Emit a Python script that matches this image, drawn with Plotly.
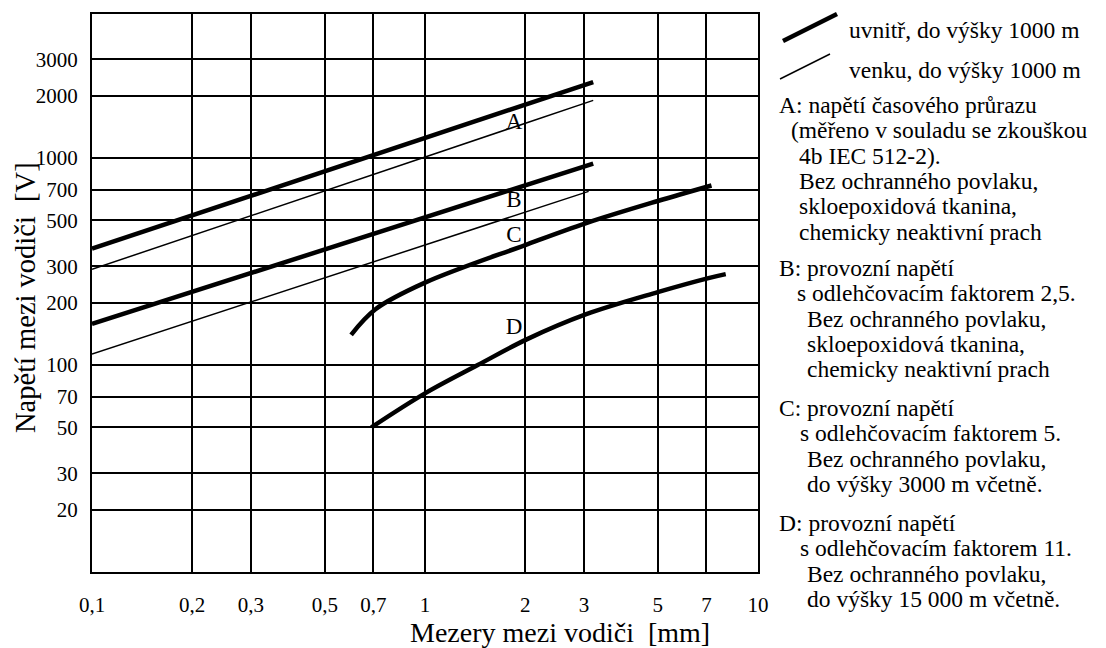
import plotly.graph_objects as go

# ---------------- data ----------------
x_ticks = [0.1, 0.2, 0.3, 0.5, 0.7, 1, 2, 3, 5, 7, 10]
x_ticktext = ["0,1", "0,2", "0,3", "0,5", "0,7", "1", "2", "3", "5", "7", "10"]
y_ticks = [20, 30, 50, 70, 100, 200, 300, 500, 700, 1000, 2000, 3000]
y_ticktext = ["20", "30", "50", "70", "100", "200", "300", "500", "700", "1000", "2000", "3000"]

# A: thick = inside, thin = outside
a_in_x = [0.1, 3.2]
a_in_y = [365, 2330]
a_out_x = [0.1, 3.2]
a_out_y = [290, 1900]
# B
b_in_x = [0.1, 3.2]
b_in_y = [158, 940]
b_out_x = [0.1, 3.1]
b_out_y = [113, 690]
# C, D (inside only)
c_x = [0.6, 0.71, 1, 2, 3.05, 5, 7.25]
c_y = [140, 186, 250, 380, 485, 620, 737]
d_x = [0.69, 1, 1.44, 2.02, 3.05, 5, 7.1, 8]
d_y = [50, 73, 100, 133, 176, 225, 263, 275]

curve_labels = ["A", "B", "C", "D"]
curve_label_x = [1.85, 1.85, 1.85, 1.85]
curve_label_y = [1470, 620, 420, 150]

legend_texts = ["uvnitř, do výšky 1000 m", "venku, do výšky 1000 m"]
notes = [
    ["A: napětí časového průrazu",
     "(měřeno v souladu se zkouškou",
     "4b IEC 512-2).",
     "Bez ochranného povlaku,",
     "skloepoxidová tkanina,",
     "chemicky neaktivní prach"],
    ["B: provozní napětí",
     "s odlehčovacím faktorem 2,5.",
     "Bez ochranného povlaku,",
     "skloepoxidová tkanina,",
     "chemicky neaktivní prach"],
    ["C: provozní napětí",
     "s odlehčovacím faktorem 5.",
     "Bez ochranného povlaku,",
     "do výšky 3000 m včetně."],
    ["D: provozní napětí",
     "s odlehčovacím faktorem 11.",
     "Bez ochranného povlaku,",
     "do výšky 15 000 m včetně."],
]
x_title = "Mezery mezi vodiči  [mm]"
y_title = "Napětí mezi vodiči  [V]"

# ---------------- layout constants ----------------
W, H = 1106, 648
L, R, T, B = 92, 758, 14, 572
FONT = "Liberation Serif, Times New Roman, serif"
THICK, THIN = 4.5, 1.5


def px(xp):
    return (xp - L) / (R - L)


def py(yp):
    return (B - yp) / (B - T)


fig = go.Figure()
for xs, ys, w in [(a_in_x, a_in_y, THICK), (a_out_x, a_out_y, THIN),
                  (b_in_x, b_in_y, THICK), (b_out_x, b_out_y, THIN)]:
    fig.add_trace(go.Scatter(x=xs, y=ys, mode="lines",
                             line=dict(color="black", width=w),
                             showlegend=False, hoverinfo="skip"))
for xs, ys in [(c_x, c_y), (d_x, d_y)]:
    fig.add_trace(go.Scatter(x=xs, y=ys, mode="lines",
                             line=dict(color="black", width=THICK, shape="spline", smoothing=1.0),
                             showlegend=False, hoverinfo="skip"))

fig.add_trace(go.Scatter(x=curve_label_x, y=curve_label_y, mode="text",
                         text=curve_labels, textposition="middle center",
                         textfont=dict(family=FONT, size=23, color="black"),
                         showlegend=False, hoverinfo="skip"))

annotations = []
leg_y = [30, 70]
for t, yy in zip(legend_texts, leg_y):
    annotations.append(dict(xref="paper", yref="paper", x=px(847), y=py(yy), text=t,
                            showarrow=False, xanchor="left", yanchor="middle",
                            font=dict(family=FONT, size=23.5, color="black")))

block_start = [105, 268, 408, 523]
indents = [
    [777, 789, 797, 797, 797, 797],
    [777, 795, 805, 805, 805],
    [777, 798, 805, 805],
    [777, 798, 805, 805],
]
LINE = 25.3
for block, y0, ind in zip(notes, block_start, indents):
    for i, (t, xx) in enumerate(zip(block, ind)):
        annotations.append(dict(xref="paper", yref="paper", x=px(xx), y=py(y0 + i * LINE), text=t,
                                showarrow=False, xanchor="left", yanchor="middle",
                                font=dict(family=FONT, size=23.5, color="black")))

annotations.append(dict(xref="paper", yref="paper", x=px(560), y=py(632), text=x_title,
                        showarrow=False, xanchor="center", yanchor="middle",
                        font=dict(family=FONT, size=28, color="black")))
annotations.append(dict(xref="paper", yref="paper", x=px(26), y=py(298), text=y_title,
                        showarrow=False, xanchor="center", yanchor="middle", textangle=-90,
                        font=dict(family=FONT, size=28.5, color="black")))

shapes = [
    dict(type="line", xref="paper", yref="paper", x0=px(783), y0=py(41), x1=px(837), y1=py(14),
         line=dict(color="black", width=THICK)),
    dict(type="line", xref="paper", yref="paper", x0=px(780), y0=py(79), x1=px(830), y1=py(54),
         line=dict(color="black", width=THIN)),
]

fig.update_layout(
    width=W, height=H,
    margin=dict(l=L, r=W - R, t=T, b=H - B, pad=0),
    paper_bgcolor="white", plot_bgcolor="white",
    font=dict(family=FONT, color="black"),
    annotations=annotations, shapes=shapes,
    showlegend=False,
)
fig.update_xaxes(type="log", range=[-1, 1], tickvals=x_ticks, ticktext=x_ticktext,
                 showgrid=True, gridcolor="black", gridwidth=1.5,
                 showline=True, linecolor="black", linewidth=2, mirror=True,
                 ticks="outside", ticklen=13, tickcolor="rgba(0,0,0,0)",
                 tickfont=dict(family=FONT, size=21, color="black"), zeroline=False)
fig.update_yaxes(type="log", range=[1, 3.696], tickvals=y_ticks, ticktext=y_ticktext,
                 showgrid=True, gridcolor="black", gridwidth=1.5,
                 showline=True, linecolor="black", linewidth=2, mirror=True,
                 ticks="outside", ticklen=8, tickcolor="rgba(0,0,0,0)",
                 tickfont=dict(family=FONT, size=21, color="black"), zeroline=False)

fig.write_html("out.html", config={"displayModeBar": False},
               post_script="document.body.style.margin='0px';document.body.style.overflow='hidden';")
